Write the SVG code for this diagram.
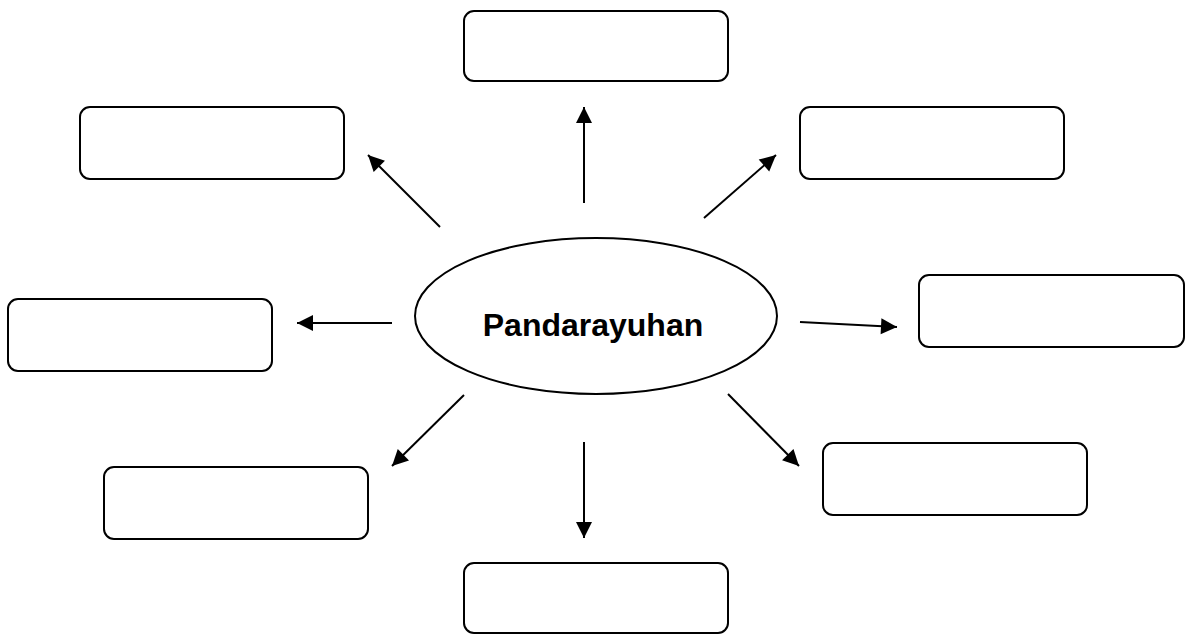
<svg xmlns="http://www.w3.org/2000/svg" width="1186" height="635" viewBox="0 0 1186 635">
<style>
.box{fill:#fff;stroke:#000;stroke-width:2}
.c{stroke:#000;stroke-width:2;fill:none;marker-end:url(#ah)}
.t{font-family:"Liberation Sans",Arial,sans-serif;font-weight:bold;font-size:32px;fill:#000}
</style>
<defs>
<marker id="ah" markerUnits="userSpaceOnUse" markerWidth="18" markerHeight="18" viewBox="0 0 18 18" refX="17" refY="9" orient="auto">
<path d="M1,1 L17,9 L1,17 Z" fill="#000"/>
</marker>
</defs>
<rect width="1186" height="635" fill="#fff"/>
<g id="center">
<ellipse cx="596" cy="316" rx="181" ry="78" class="box" stroke-width="1.5"/>
<text class="t" x="593" y="336" text-anchor="middle">Pandarayuhan</text>
</g>
<g id="box-top"><rect class="box" x="464" y="11" width="264" height="70" rx="10"/></g>
<g id="box-topleft"><rect class="box" x="80" y="107" width="264" height="72" rx="10"/></g>
<g id="box-topright"><rect class="box" x="800" y="107" width="264" height="72" rx="10"/></g>
<g id="box-right"><rect class="box" x="919" y="275" width="265" height="72" rx="10"/></g>
<g id="box-left"><rect class="box" x="8" y="299" width="264" height="72" rx="10"/></g>
<g id="box-bottomleft"><rect class="box" x="104" y="467" width="264" height="72" rx="10"/></g>
<g id="box-bottomright"><rect class="box" x="823" y="443" width="264" height="72" rx="10"/></g>
<g id="box-bottom"><rect class="box" x="464" y="563" width="264" height="70" rx="10"/></g>
<g id="connectors">
<line class="c" x1="584" y1="203" x2="584" y2="107"/>
<line class="c" x1="440" y1="227" x2="368" y2="155"/>
<line class="c" x1="704" y1="218" x2="776" y2="155"/>
<line class="c" x1="800" y1="322" x2="897" y2="327"/>
<line class="c" x1="392" y1="323" x2="297" y2="323"/>
<line class="c" x1="464" y1="395" x2="392" y2="466"/>
<line class="c" x1="584" y1="442" x2="584" y2="538"/>
<line class="c" x1="728" y1="394" x2="799" y2="466"/>
</g>
</svg>
